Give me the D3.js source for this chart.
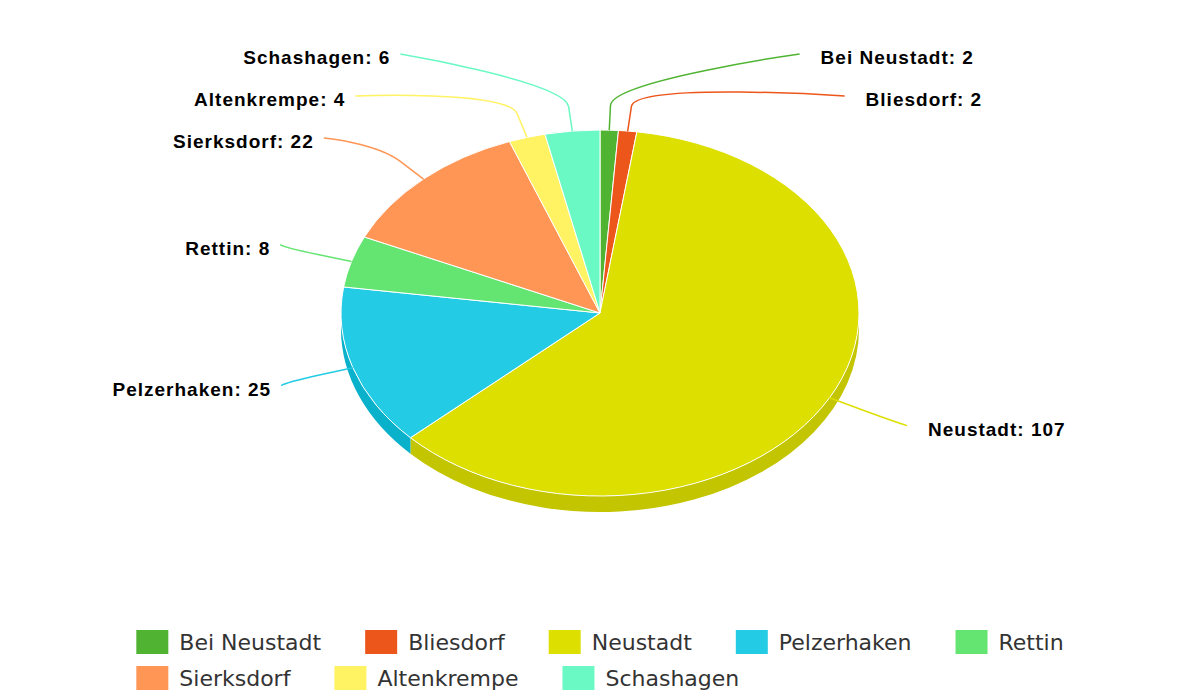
<!DOCTYPE html>
<html>
<head>
<meta charset="utf-8">
<script src="https://cdn.jsdelivr.net/npm/d3@7"></script>
<style>
  body { margin: 0; background: #fff; }
  svg { display: block; }
</style>
</head>
<body>
<div id="chart"></div>
<script>
// data
const categories = ['Bei Neustadt', 'Bliesdorf', 'Neustadt', 'Pelzerhaken', 'Rettin', 'Sierksdorf', 'Altenkrempe', 'Schashagen'];
const values = [2, 2, 107, 25, 8, 22, 4, 6];
const colors = ['#50B432', '#ED561B', '#DDDF00', '#24CBE5', '#64E572', '#FF9655', '#FFF263', '#6AF9C4'];

const width = 1200, height = 700;
const cx = 600, cy = 313, r = 259;
const tilt = 0.7066;          // vertical squash of the 3d view
const depth = 16;             // visible thickness of the pie
const labelR = 327, labelRy = 243, labelTop = 54, labelSpacing = 42;
const breakDist = 35;

const data = categories.map((name, i) => ({name: name, value: values[i], color: colors[i]}));

const svg = d3.select('#chart').append('svg')
    .attr('width', width)
    .attr('height', height);

const pie = d3.pie().sort(null).value(d => d.value);
const arcs = pie(data);

function darker(c) {
    const col = d3.rgb(c);
    return d3.rgb(col.r - 26, col.g - 26, col.b - 26).formatHex();
}

// pie body, drawn in circle coordinates and squashed vertically
const body = svg.append('g')
    .attr('transform', `translate(${cx},${cy}) scale(1,${tilt})`);

const D = depth / tilt;
arcs.forEach(a => {
    // screen angles, 0 = 3 o'clock, clockwise
    const t1 = Math.max(a.startAngle - Math.PI / 2, 0);
    const t2 = Math.min(a.endAngle - Math.PI / 2, Math.PI);
    if (t2 <= t1) return;
    const p = d3.path();
    p.moveTo(r * Math.cos(t1), r * Math.sin(t1));
    p.arc(0, 0, r, t1, t2);
    p.lineTo(r * Math.cos(t2), r * Math.sin(t2) + D);
    p.arc(0, D, r, t2, t1, true);
    p.closePath();
    body.append('path')
        .attr('d', p.toString())
        .attr('fill', darker(a.data.color));
});

const arc = d3.arc().innerRadius(0).outerRadius(r);
body.selectAll('path.slice')
    .data(arcs)
    .enter().append('path')
    .attr('class', 'slice')
    .attr('d', arc)
    .attr('fill', d => d.data.color)
    .attr('stroke', '#fff')
    .attr('stroke-width', 1)
    .attr('vector-effect', 'non-scaling-stroke');

// label layout
const labels = arcs.map(a => {
    const t = (a.startAngle + a.endAngle) / 2 - Math.PI / 2;
    return {
        a: a,
        t: t,
        side: Math.cos(t) >= 0 ? 'right' : 'left',
        target: labelRy * Math.sin(t)
    };
});

function distribute(items) {
    items.sort((p, q) => p.target - q.target);
    let clusters = items.map(it => ({items: [it]}));
    const place = c => {
        const n = c.items.length;
        const mean = d3.mean(c.items, it => it.target);
        let start = mean - (n - 1) * labelSpacing / 2;
        start = Math.max(start, labelTop - cy);
        c.start = start;
        c.end = start + (n - 1) * labelSpacing;
    };
    let merged = true;
    while (merged) {
        merged = false;
        clusters.forEach(place);
        for (let i = 0; i < clusters.length - 1; i++) {
            if (clusters[i].end + labelSpacing > clusters[i + 1].start) {
                clusters[i].items = clusters[i].items.concat(clusters[i + 1].items);
                clusters.splice(i + 1, 1);
                merged = true;
                break;
            }
        }
    }
    clusters.forEach(c => c.items.forEach((it, j) => { it.dy = c.start + j * labelSpacing; }));
}

distribute(labels.filter(l => l.side === 'right'));
distribute(labels.filter(l => l.side === 'left'));

const labelG = svg.append('g');
labels.forEach(l => {
    const dx = Math.sqrt(Math.max(labelR * labelR - l.dy * l.dy, 0));
    const ax = l.side === 'right' ? cx + dx : cx - dx;
    const ay = cy + l.dy;
    const ex = cx + r * Math.cos(l.t), ey = cy + r * Math.sin(l.t) * tilt;
    const bx = cx + (r + breakDist) * Math.cos(l.t), by = cy + (r + breakDist) * Math.sin(l.t) * tilt;

    const p = d3.path();
    p.moveTo(ax, ay);
    p.bezierCurveTo(ax, ay, 2 * bx - ex, 2 * by - ey, bx, by);
    p.lineTo(ex, ey);
    labelG.append('path')
        .attr('d', p.toString())
        .attr('fill', 'none')
        .attr('stroke', l.a.data.color)
        .attr('stroke-width', 1.5);

    labelG.append('text')
        .attr('x', l.side === 'right' ? ax + 21 : ax - 10)
        .attr('y', ay + 10)
        .attr('text-anchor', l.side === 'right' ? 'start' : 'end')
        .style('font-family', '"Liberation Sans", Arial, sans-serif')
        .style('font-weight', 'bold')
        .style('font-size', '19px')
        .style('letter-spacing', '1px')
        .attr('fill', '#000')
        .text(`${l.a.data.name}: ${l.a.data.value}`);
});

// legend
const legend = svg.append('g');
const swatchW = 32, swatchH = 24, textOff = 43, itemPad = 44, rowH = 36, maxRow = 1000;
const items = data.map(d => {
    const g = legend.append('g');
    g.append('rect')
        .attr('width', swatchW)
        .attr('height', swatchH)
        .attr('fill', d.color);
    const t = g.append('text')
        .attr('x', textOff)
        .attr('y', 20)
        .style('font-family', '"DejaVu Sans", sans-serif')
        .style('font-size', '22px')
        .attr('fill', '#333')
        .text(d.name);
    return {g: g, w: textOff + t.node().getComputedTextLength()};
});

let rows = [[]], rowW = 0;
items.forEach(it => {
    if (rowW > 0 && rowW + it.w > maxRow) {
        rows.push([]);
        rowW = 0;
    }
    it.x = rowW;
    rows[rows.length - 1].push(it);
    rowW += it.w + itemPad;
});
const firstRow = rows[0];
const last = firstRow[firstRow.length - 1];
const legendW = last.x + last.w;
const legendX = (width - legendW) / 2;
rows.forEach((row, ri) => {
    row.forEach(it => {
        it.g.attr('transform', `translate(${legendX + it.x},${630 + ri * rowH})`);
    });
});
</script>
</body>
</html>
